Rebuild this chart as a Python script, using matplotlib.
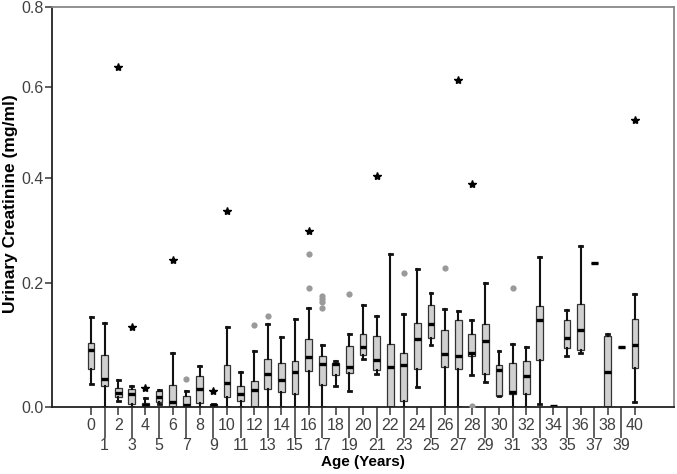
import numpy as np
import matplotlib
matplotlib.use('Agg')
import matplotlib.pyplot as plt

plt.rcParams['font.family'] = ['Liberation Sans', 'DejaVu Sans']

# box statistics per age (mg/ml)
ages = list(range(41))
whislo = [0.034, 0.0, 0.009, 0.0, 0.0, 0.004, 0.0, 0.0, 0.0, 0.001, 0.0,
          0.0, 0.0, 0.0, 0.0, 0.0, 0.0, 0.0, 0.031, 0.024, 0.073,
          0.050, 0.0, 0.0, 0.030, 0.095, 0.0, 0.0, 0.048, 0.037, 0.016,
          0.0, 0.0, 0.004, 0.001, 0.078, 0.083, 0.235, 0.0, 0.092, 0.007]
q1 = [0.057, 0.032, 0.015, 0.005, 0.0, 0.008, 0.0, 0.0, 0.006, 0.001, 0.015,
      0.009, 0.0, 0.027, 0.023, 0.019, 0.055, 0.033, 0.048, 0.051, 0.080,
      0.056, 0.0, 0.009, 0.057, 0.107, 0.060, 0.057, 0.078, 0.049, 0.016,
      0.020, 0.020, 0.072, 0.001, 0.090, 0.088, 0.235, 0.0, 0.092, 0.059]
med = [0.087, 0.042, 0.021, 0.020, 0.003, 0.015, 0.007, 0.003, 0.027, 0.003, 0.036,
       0.019, 0.026, 0.049, 0.041, 0.052, 0.077, 0.065, 0.065, 0.061, 0.092,
       0.072, 0.060, 0.064, 0.105, 0.130, 0.081, 0.078, 0.082, 0.102, 0.056,
       0.023, 0.046, 0.137, 0.001, 0.106, 0.120, 0.235, 0.052, 0.092, 0.095]
q3 = [0.099, 0.079, 0.028, 0.027, 0.006, 0.024, 0.033, 0.016, 0.047, 0.004, 0.063,
      0.032, 0.039, 0.073, 0.066, 0.070, 0.105, 0.078, 0.066, 0.094, 0.113,
      0.110, 0.097, 0.083, 0.132, 0.161, 0.119, 0.136, 0.113, 0.129, 0.063,
      0.066, 0.070, 0.160, 0.001, 0.137, 0.163, 0.235, 0.110, 0.092, 0.138]
whishi = [0.142, 0.131, 0.040, 0.031, 0.013, 0.026, 0.083, 0.024, 0.062, 0.004, 0.124,
          0.053, 0.085, 0.130, 0.109, 0.138, 0.156, 0.095, 0.070, 0.113, 0.162,
          0.143, 0.252, 0.147, 0.224, 0.182, 0.155, 0.151, 0.137, 0.199, 0.085,
          0.097, 0.092, 0.247, 0.001, 0.153, 0.266, 0.235, 0.113, 0.092, 0.181]

# outliers (circles) and extreme values (stars)
outliers = {7: [0.042], 12: [0.128], 13: [0.143], 16: [0.191, 0.252],
            17: [0.156, 0.166, 0.172, 0.177], 19: [0.180], 23: [0.218],
            26: [0.227], 28: [0.002], 31: [0.191]}
extremes = {2: [0.648], 3: [0.124], 4: [0.028], 6: [0.241], 9: [0.024],
            10: [0.334], 16: [0.296], 21: [0.405], 27: [0.617], 28: [0.388],
            40: [0.525]}

fig = plt.figure(figsize=(6.77, 4.74), dpi=100)
ax = fig.add_axes([0.0768, 0.1414, 0.9188, 0.8438])
ax.set_yscale('function', functions=(np.log1p, np.expm1))

stats = []
for i, a in enumerate(ages):
    stats.append(dict(whislo=whislo[i], q1=q1[i], med=med[i], q3=q3[i],
                      whishi=whishi[i], fliers=[], label=str(a)))

ax.bxp(stats, positions=ages, widths=0.5, patch_artist=True, showfliers=False,
       capwidths=0.22,
       boxprops=dict(facecolor='#d0d0d0', edgecolor='#333333', linewidth=0.9),
       medianprops=dict(color='black', linewidth=2.4, solid_capstyle='butt'),
       whiskerprops=dict(color='#111111', linewidth=1.5),
       capprops=dict(color='#111111', linewidth=2.0))

for a, vals in outliers.items():
    ax.plot([a] * len(vals), vals, 'o', ms=4.5, color='#9a9a9a', mec='none',
            zorder=4)
for a, vals in extremes.items():
    ax.plot([a] * len(vals), vals, '*', ms=6, color='black', zorder=4)

ax.set_ylim(0, 0.8)
ax.set_xlim(-2.87, 42.87)

ax.set_yticks([0.0, 0.2, 0.4, 0.6, 0.8])
ax.set_yticklabels(['0.0', '0.2', '0.4', '0.6', '0.8'])
ax.yaxis.set_minor_locator(matplotlib.ticker.NullLocator())

even = [a for a in ages if a % 2 == 0]
odd = [a for a in ages if a % 2 == 1]
ax.set_xticks(even)
ax.set_xticklabels([str(a) for a in even])
ax.set_xticks(odd, minor=True)
ax.set_xticklabels([str(a) for a in odd], minor=True)

ax.tick_params(axis='x', which='major', length=6, width=1.2, color='#444444',
               labelsize=11.5, labelcolor='#404040', pad=2)
ax.tick_params(axis='x', which='minor', length=22, width=1.2, color='#444444',
               labelsize=11.5, labelcolor='#404040', pad=0)
ax.tick_params(axis='y', which='major', length=5, width=1.2, color='#444444',
               labelsize=11.5, labelcolor='#404040', pad=1)

for side in ['left', 'bottom']:
    ax.spines[side].set_color('#222222')
    ax.spines[side].set_linewidth(1.3)
for side in ['top', 'right']:
    ax.spines[side].set_color('#888888')
    ax.spines[side].set_linewidth(1.3)

fig.text(363 / 677, 1 - 462 / 474, 'Age (Years)', fontsize=11,
         fontweight='bold', ha='center', va='center')
fig.text(11 / 677, 1 - 204 / 474, 'Urinary Creatinine (mg/ml)', fontsize=12.5,
         fontweight='bold', ha='center', va='center', rotation=90)

fig.savefig('out.png', dpi=100)
